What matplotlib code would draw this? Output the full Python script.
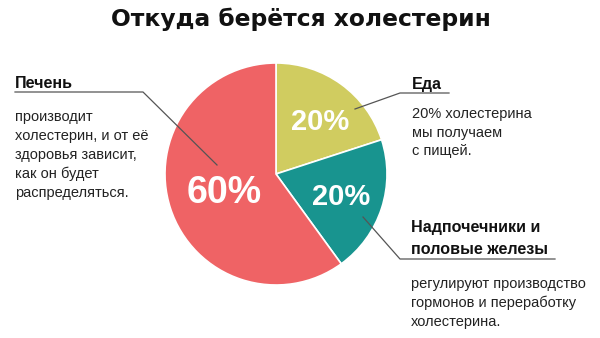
import matplotlib
matplotlib.use("Agg")
from matplotlib import pyplot as plt

# shares of cholesterol by source
labels_pct = ["20%", "20%", "60%"]
shares = [20, 20, 60]
colors = ["#d0cc60", "#18948f", "#ef6365"]

title = "Откуда берётся холестерин"
head_liver = "Печень"
text_liver = "производит\nхолестерин, и от её\nздоровья зависит,\nкак он будет\nраспределяться."
head_food = "Еда"
text_food = "20% холестерина\nмы получаем\nс пищей."
head_glands = "Надпочечники и\nполовые железы"
text_glands = "регулируют производство\nгормонов и переработку\nхолестерина."

W, H = 600, 338
fig = plt.figure(figsize=(6, 3.38), dpi=100)
ax = fig.add_axes([0, 0, 1, 1])

sans = ["Liberation Sans", "DejaVu Sans"]
wide = ["DejaVu Sans"]

def y(v):
    # pixel row (from top) -> axes y
    return H - v

cx, cy, r = 276, y(174), 111
ax.pie(shares, colors=colors, startangle=90, counterclock=False,
       center=(cx, cy), radius=r, frame=True,
       wedgeprops=dict(edgecolor="white", linewidth=1.2))
ax.set_xlim(0, W)
ax.set_ylim(0, H)
ax.set_aspect("equal")
ax.axis("off")

pct_pos = [(320, 122), (341, 197), (224, 193)]
pct_size = [21, 21, 27]
for lab, (px, py), fs in zip(labels_pct, pct_pos, pct_size):
    ax.text(px, y(py), lab, color="white", fontsize=fs, fontweight="bold",
            family=sans, ha="center", va="center")

ax.text(W / 2 + 1, y(19), title, fontsize=16.8, fontweight="bold", family=wide,
        ha="center", va="center", color="#111111")

line_kw = dict(color="#555555", linewidth=0.9)
head_kw = dict(fontsize=11.6, fontweight="bold", family=sans, ha="left",
               color="#111111")
body_kw = dict(fontsize=10.5, family=sans, ha="left", va="center",
               color="#222222", linespacing=1.45)

# liver
ax.text(15, y(83), head_liver, va="center", **head_kw)
ax.plot([15, 143, 217], [y(92), y(92), y(165)], **line_kw)
ax.text(15, y(155), text_liver, **body_kw)

# food
ax.text(412, y(84), head_food, va="center", **head_kw)
ax.plot([355, 400, 449], [y(109), y(93), y(93)], **line_kw)
ax.text(412, y(132.5), text_food, **body_kw)

# glands
ax.text(411, y(238.5), head_glands, va="center", linespacing=1.6, **head_kw)
ax.plot([363, 400, 555], [y(217), y(259), y(259)], **line_kw)
ax.text(411, y(303), text_glands, **body_kw)

fig.savefig("out.png", dpi=100, facecolor="white")
